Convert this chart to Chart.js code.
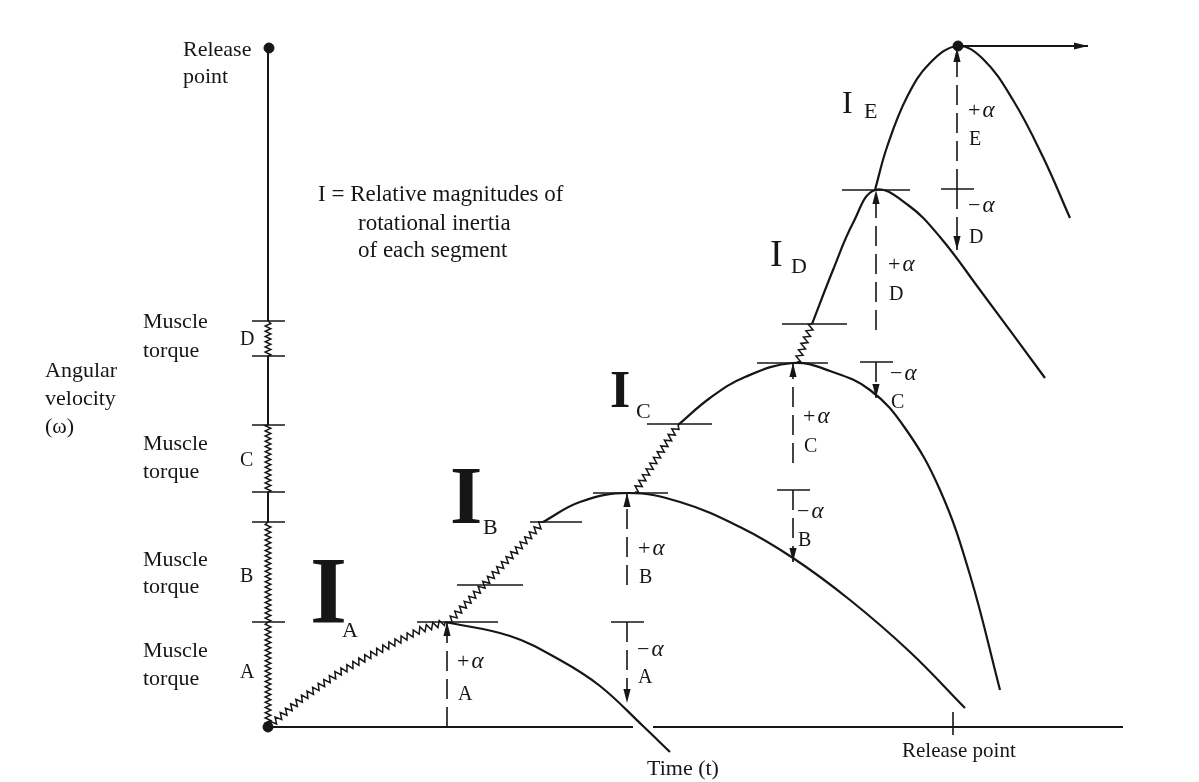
<!DOCTYPE html>
<html>
<head>
<meta charset="utf-8">
<script src="https://cdn.jsdelivr.net/npm/chart.js@4.4.1/dist/chart.umd.min.js"></script>
<style>
  html, body { margin: 0; padding: 0; background: #fff; }
  #wrap { width: 1199px; height: 782px; }
</style>
</head>
<body>
<div id="wrap"><canvas id="summation" width="1199" height="782"></canvas></div>
<script>
// Summation of speed: angular velocity (omega) against time (t), arbitrary units.
// Vertical axis: where each muscle torque segment starts and ends
const torqueA = [0, 105];
const torqueB = [105, 205];
const torqueC = [235, 302];
const torqueD = [371, 406];
const axisTop = 679;
const axisTicks = [105, 205, 235, 302, 371, 406];
const timeEnd = 855;
const releaseTime = 685;

// segments: [t, omega]
const rampA  = [[0,0],[32,27],[72,55],[112,77],[152,97],[177,105]];
const curveA = [[177,105],[242,91],[292,67],[332,41],[375,1],[402,-25]];
const rampB  = [[181,105],[275,205]];
const curveB = [[275,205],[312,225],[360,234],[412,225],[472,200],[525,169],[582,127],[642,75],[697,19]];
const rampC  = [[367,235],[410,302]];
const curveC = [[410,302],[442,329],[477,350],[525,364],[562,356],[602,337],[637,299],[672,237],[702,152],[732,37]];
const rampD  = [[529,365],[544,403]];
const curveD = [[544,403],[565,457],[585,504],[607,537],[640,522],[672,490],[712,437],[777,349]];
const curveE = [[607,537],[619,580],[639,630],[662,664],[690,681],[715,668],[745,627],[775,570],[802,509]];

// horizontal level marks on the curves: [omega, tStart, tEnd]
const levelMarks = [[105,149,230],[142,189,255],[205,262,314],[234,325,400],[303,379,444],[364,489,560],[403,514,579],[537,574,642]];

// acceleration arrows: [t, omegaFrom, omegaTo]
const plusAlpha  = [[179,0,105],[359,142,234],[525,264,364],[608,397,537],[689,538,679]];
const minusAlpha = [[359,105,24],[525,237,165],[608,365,329],[689,538,477]];

const ink = '#161616';
const serif = '"Liberation Serif", "DejaVu Serif", serif';

function seg(points, extra) {
  return Object.assign({
    data: points.map(([x, y]) => ({ x, y })),
    showLine: true, borderColor: ink, borderWidth: 2.2, pointRadius: 0,
    tension: 0, clip: false
  }, extra || {});
}

const datasets = [];
// vertical axis
datasets.push(seg([[0, torqueB[1]], [0, torqueC[0]]], { borderWidth: 2 }));
datasets.push(seg([[0, torqueC[1]], [0, torqueD[0]]], { borderWidth: 2 }));
datasets.push(seg([[0, torqueD[1]], [0, axisTop]], { borderWidth: 2 }));
[torqueA, torqueB, torqueC, torqueD].forEach(r => {
  datasets.push(seg([[0, r[0]], [0, r[1]]], { borderColor: 'rgba(0,0,0,0)', zigzag: { amp: 2.8, step: 2.6 } }));
});
axisTicks.forEach(w => datasets.push(seg([[-16, w], [17, w]], { borderWidth: 1.6 })));
// time axis, broken where curve A crosses it
datasets.push(seg([[0, 0], [365, 0]], { borderWidth: 2 }));
datasets.push(seg([[385, 0], [timeEnd, 0]], { borderWidth: 2 }));
datasets.push(seg([[releaseTime, -8], [releaseTime, 15]], { borderWidth: 1.6 }));
// zigzag ramps (muscle torque)
[rampA, rampB, rampC, rampD].forEach(r => {
  datasets.push(seg(r, { borderColor: 'rgba(0,0,0,0)', zigzag: { amp: 3.2, step: 3.4 } }));
});
// smooth segment curves
[curveA, curveB, curveC, curveD, curveE].forEach(c => {
  datasets.push(seg(c, { tension: 0.4 }));
});
// level marks
levelMarks.forEach(([w, a, b]) => datasets.push(seg([[a, w], [b, w]], { borderWidth: 1.6 })));
// alpha arrows
plusAlpha.forEach(([t, a, b]) => datasets.push(seg([[t, a], [t, b]], { borderWidth: 1.6, borderDash: [20, 8], arrow: true })));
minusAlpha.forEach(([t, a, b]) => {
  datasets.push(seg([[t - 16, a], [t + 17, a]], { borderWidth: 1.6 }));
  datasets.push(seg([[t, a], [t, b]], { borderWidth: 1.6, borderDash: [20, 8], arrow: true }));
});
// release velocity arrow
datasets.push(seg([[690, 681], [820, 681]], { borderWidth: 1.8, arrow: true }));
// dots
datasets.push({
  data: [{ x: 0, y: 0 }, { x: 1, y: axisTop }, { x: 690, y: 681 }],
  showLine: false, pointRadius: 5, pointBackgroundColor: ink, pointBorderColor: ink, clip: false
});

// texts (pixel layout): [text, x, baseline, size, weight]
const notes = [
  ['Release', 183, 56, 22], ['point', 183, 83, 22],
  ['Muscle', 143, 328, 22], ['torque', 143, 357, 22], ['D', 240, 345, 20],
  ['Muscle', 143, 450, 22], ['torque', 143, 478, 22], ['C', 240, 466, 20],
  ['Muscle', 143, 566, 22], ['torque', 143, 593, 22], ['B', 240, 582, 20],
  ['Muscle', 143, 657, 22], ['torque', 143, 685, 22], ['A', 240, 678, 20],
  ['Angular', 45, 377, 22], ['velocity', 45, 405, 22], ['(\u03c9)', 45, 433, 22],
  ['I = Relative magnitudes of', 318, 201, 23], ['rotational inertia', 358, 230, 23], ['of each segment', 358, 257, 23],
  ['Time (t)', 647, 775, 22], ['Release point', 902, 757, 21],
  ['I', 310, 623, 95, 'bold'], ['A', 342, 637, 22],
  ['I', 450, 523, 83, 'bold'], ['B', 483, 534, 22],
  ['I', 610, 407, 52, 'bold'], ['C', 636, 418, 22],
  ['I', 770, 266, 38], ['D', 791, 273, 22],
  ['I', 842, 113, 32], ['E', 864, 118, 22]
];
// alpha labels: [sign, segment, x, baseline sign, baseline letter]
const alphaNotes = [
  ['+', 'A', 457, 668, 700], ['\u2212', 'A', 637, 656, 683],
  ['+', 'B', 638, 555, 583], ['\u2212', 'B', 797, 518, 546],
  ['+', 'C', 803, 423, 452], ['\u2212', 'C', 890, 380, 408],
  ['+', 'D', 888, 271, 300], ['\u2212', 'D', 968, 212, 243],
  ['+', 'E', 968, 117, 145]
];

function zigzag(ctx, pts, amp, step) {
  ctx.beginPath();
  ctx.moveTo(pts[0].x, pts[0].y);
  let side = 1, carry = step / 2;
  for (let i = 1; i < pts.length; i++) {
    const a = pts[i - 1], b = pts[i];
    const dx = b.x - a.x, dy = b.y - a.y, len = Math.hypot(dx, dy);
    if (!len) continue;
    const ux = dx / len, uy = dy / len;
    let d = carry;
    while (d < len) {
      ctx.lineTo(a.x + ux * d - uy * amp * side, a.y + uy * d + ux * amp * side);
      side = -side;
      d += step;
    }
    carry = d - len;
  }
  ctx.lineTo(pts[pts.length - 1].x, pts[pts.length - 1].y);
  ctx.stroke();
}

const diagramPlugin = {
  id: 'diagram',
  beforeDraw(chart) {
    const ctx = chart.ctx;
    ctx.save();
    ctx.fillStyle = '#fff';
    ctx.fillRect(0, 0, chart.width, chart.height);
    ctx.restore();
  },
  afterDatasetsDraw(chart) {
    const ctx = chart.ctx;
    ctx.save();
    ctx.strokeStyle = ink;
    ctx.fillStyle = ink;
    ctx.lineJoin = 'miter';
    chart.data.datasets.forEach((ds, i) => {
      const pts = chart.getDatasetMeta(i).data;
      if (ds.zigzag) {
        ctx.lineWidth = 1.5;
        zigzag(ctx, pts, ds.zigzag.amp, ds.zigzag.step);
      }
      if (ds.arrow) {
        const a = pts[pts.length - 2], b = pts[pts.length - 1];
        const ang = Math.atan2(b.y - a.y, b.x - a.x);
        ctx.save();
        ctx.translate(b.x, b.y);
        ctx.rotate(ang);
        ctx.beginPath();
        ctx.moveTo(0, 0);
        ctx.lineTo(-14, -3.6);
        ctx.lineTo(-14, 3.6);
        ctx.closePath();
        ctx.fill();
        ctx.restore();
      }
    });
    ctx.textBaseline = 'alphabetic';
    ctx.textAlign = 'left';
    notes.forEach(([t, x, y, size, weight]) => {
      ctx.font = (weight || 'normal') + ' ' + size + 'px ' + serif;
      ctx.fillText(t, x, y);
    });
    alphaNotes.forEach(([sign, letter, x, y1, y2]) => {
      ctx.font = '22px ' + serif;
      ctx.fillText(sign, x, y1);
      const w = ctx.measureText(sign).width;
      ctx.font = 'italic 23px ' + serif;
      ctx.fillText('\u03b1', x + w + 2, y1);
      ctx.font = '20px ' + serif;
      ctx.fillText(letter, x + 1, y2);
    });
    ctx.restore();
  }
};

new Chart(document.getElementById('summation'), {
  type: 'scatter',
  data: { datasets },
  options: {
    responsive: false,
    animation: false,
    events: [],
    layout: { padding: { left: 268, right: 71, top: 27, bottom: 55 } },
    plugins: { legend: { display: false }, tooltip: { enabled: false } },
    scales: {
      x: { type: 'linear', min: 0, max: 860, display: false },
      y: { type: 'linear', min: 0, max: 700, display: false }
    }
  },
  plugins: [diagramPlugin]
});
</script>
</body>
</html>
